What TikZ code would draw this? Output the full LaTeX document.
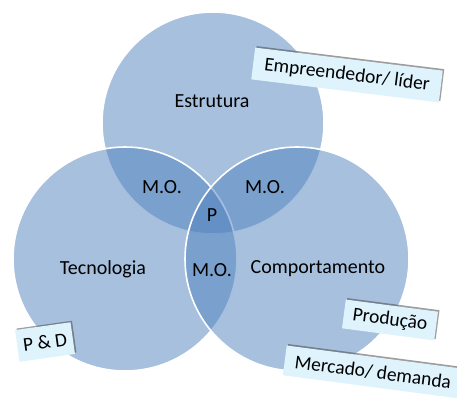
\documentclass[tikz,border=0pt]{standalone}
\usepackage{fontspec}
\setmainfont{Carlito}
\usetikzlibrary{shadows}
\definecolor{accent}{RGB}{79,129,189}
\definecolor{boxfill}{RGB}{222,243,252}
\tikzset{
  venn/.style={fill=accent, fill opacity=0.5, draw=white, line width=1.6pt},
  lbl/.style={font=\fontsize{20}{24}\selectfont, text=black, inner sep=0pt},
  tag/.style={fill=boxfill, font=\fontsize{19.5}{23}\selectfont, text=black, inner sep=0pt,
    drop shadow={shadow xshift=1.5pt, shadow yshift=1.5pt, opacity=0.55, fill=black!70}},
}
\begin{document}
\begin{tikzpicture}[x=1pt,y=-1pt]
\useasboundingbox (0,0) rectangle (457,397);
\path[venn] (213,123) circle[radius=111];
\path[venn] (125,259) circle[radius=112];
\path[venn] (297,259) circle[radius=112];

\node[lbl] (estr) at (212,101) {Estrutura};
\node[lbl] (mo1) at (162,187) {M.O.};
\node[lbl] (mo2) at (265,187) {M.O.};
\node[lbl] (p) at (212,215) {P};
\node[lbl] (mo3) at (212,270) {M.O.};
\node[lbl] (tec) at (103,269) {Tecnologia};
\node[lbl] (comp) at (318,269) {Comportamento};

\node[tag, minimum width=189pt, minimum height=32pt, rotate=-7] (emp) at (347,75) {Empreendedor/ líder};
\node[tag, minimum width=56pt, minimum height=32pt, rotate=8] (pd) at (45,342) {P \& D};
\node[tag, minimum width=93pt, minimum height=29pt, rotate=-7.5] (prod) at (390,320) {Produção};
\node[tag, minimum width=178pt, minimum height=30pt, rotate=-7.5] (merc) at (373,372) {Mercado/ demanda};
\end{tikzpicture}
\end{document}
